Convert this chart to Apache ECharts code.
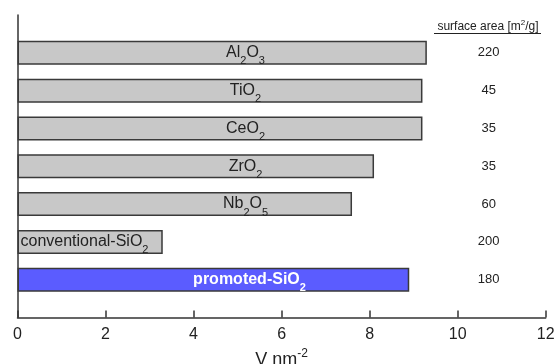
<!DOCTYPE html>
<html>
<head>
<meta charset="utf-8">
<script src="https://cdn.jsdelivr.net/npm/echarts@6/dist/echarts.min.js"></script>
<style>
  html, body { margin: 0; padding: 0; background: #ffffff; }
  #chart { width: 557px; height: 364px; }
</style>
</head>
<body>
<div id="chart"></div>
<script>
// Support materials, vanadium surface density (V nm^-2) and BET surface area (m2/g)
const materials = ['Al2O3', 'TiO2', 'CeO2', 'ZrO2', 'Nb2O5', 'conventional-SiO2', 'promoted-SiO2'];
const vDensity = [9.3, 9.2, 9.2, 8.1, 7.6, 3.3, 8.9];
const surfaceArea = [220, 45, 35, 35, 60, 200, 180];
const xTicks = [0, 2, 4, 6, 8, 10, 12];

const FONT = '"Liberation Sans", Arial, sans-serif';

// one empty slot above and below the bars
const categories = [''].concat(materials, ['']);
const areaLabels = [''].concat(surfaceArea.map(String), ['']);

// chemical formula -> rich text with subscripted digits
function formula(name, base) {
  return name.split(/(\d+)/).filter(s => s.length).map(s =>
    /^\d+$/.test(s) ? '{' + base + 'Sub|' + s + '}' : '{' + base + '|' + s + '}'
  ).join('');
}

const richStyles = {
  n: { fontSize: 16, color: '#222', fontFamily: FONT },
  nSub: { fontSize: 11, color: '#222', fontFamily: FONT, padding: [17, 0, 0, 0] },
  w: { fontSize: 16, color: '#fff', fontWeight: 'bold', fontFamily: FONT },
  wSub: { fontSize: 11, color: '#fff', fontWeight: 'bold', fontFamily: FONT, padding: [17, 0, 0, 0] }
};

const barData = [null].concat(materials.map((m, i) => {
  const promoted = m.startsWith('promoted');
  const conventional = m.startsWith('conventional');
  const item = {
    value: vDensity[i],
    itemStyle: { color: promoted ? '#5b5cff' : '#c8c8c8' },
    label: {
      show: true,
      formatter: formula(m, promoted ? 'w' : 'n'),
      rich: richStyles
    }
  };
  if (conventional) {
    item.label.position = 'insideLeft';
    item.label.distance = 3;
    item.label.align = 'left';
  } else {
    item.label.position = [promoted ? 232 : 228, '50%'];
    item.label.align = 'center';
    item.label.verticalAlign = 'middle';
  }
  return item;
}), [null]);

const chart = echarts.init(document.getElementById('chart'), null, { renderer: 'canvas' });

chart.setOption({
  backgroundColor: '#ffffff',
  animation: false,
  grid: {
    left: 17.5, right: 11.3, top: 15, bottom: 46.5,
    containLabel: false,
    outerBoundsMode: 'none'
  },
  xAxis: {
    type: 'value',
    min: xTicks[0],
    max: xTicks[xTicks.length - 1],
    interval: 2,
    splitLine: { show: false },
    axisLine: { show: true, lineStyle: { color: '#333', width: 1.5 } },
    axisTick: { show: true, inside: true, length: 7, lineStyle: { color: '#333', width: 1.5 } },
    axisLabel: { color: '#222', fontSize: 16, fontFamily: FONT, margin: 9 },
    name: 'V nm{sup|-2}',
    nameLocation: 'middle',
    nameGap: 29,
    nameTextStyle: {
      color: '#222', fontSize: 18, fontFamily: FONT, verticalAlign: 'top',
      rich: {
        sup: { fontSize: 12, color: '#222', fontFamily: FONT, padding: [0, 0, 13, 0] }
      }
    }
  },
  yAxis: [
    {
      type: 'category',
      data: categories,
      inverse: true,
      boundaryGap: false,
      axisLine: { show: true, lineStyle: { color: '#333', width: 1.5 } },
      axisTick: { show: false },
      axisLabel: { show: false },
      splitLine: { show: false }
    },
    {
      type: 'category',
      data: areaLabels,
      inverse: true,
      boundaryGap: false,
      position: 'right',
      axisLine: { show: false },
      axisTick: { show: false },
      splitLine: { show: false },
      axisLabel: {
        show: true, inside: true, margin: 57, align: 'center',
        color: '#222', fontSize: 13, fontFamily: FONT
      }
    }
  ],
  series: [{
    type: 'bar',
    yAxisIndex: 0,
    data: barData,
    barWidth: 24,
    itemStyle: { borderColor: '#3a3a3a', borderWidth: 1.5 }
  }],
  graphic: [
    {
      type: 'text',
      x: 488, y: 27,
      style: {
        text: 'surface area [m{sup|2}/g]',
        fill: '#222',
        font: '12px ' + FONT,
        align: 'center',
        verticalAlign: 'middle',
        rich: {
          sup: { fontSize: 8, fill: '#222', fontFamily: FONT, padding: [0, 0, 8, 0] }
        }
      }
    },
    {
      type: 'line',
      shape: { x1: 434, y1: 33.5, x2: 541, y2: 33.5 },
      style: { stroke: '#222', lineWidth: 1 }
    }
  ]
});
</script>
</body>
</html>
